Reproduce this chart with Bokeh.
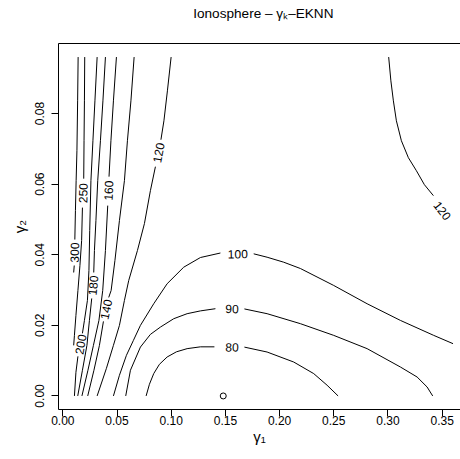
from bokeh.plotting import figure
from bokeh.models import Range1d, FixedTicker, LinearAxis, PrintfTickFormatter
from bokeh.embed import file_html
from bokeh.resources import INLINE
from bokeh.core.properties import value

FONT = "Liberation Sans"

# ---- axis ticks ----
x_ticks = [0.00, 0.05, 0.10, 0.15, 0.20, 0.25, 0.30, 0.35]
y_ticks = [0.00, 0.02, 0.04, 0.06, 0.08]

# ---- contour lines (gamma1, gamma2); broken at their labels ----
c300_a_x = [0.01411, 0.01365, 0.01301, 0.01227, 0.01162, 0.01107]
c300_a_y = [0.09600, 0.08360, 0.06947, 0.06099, 0.05250, 0.04430]
c300_b_x = [0.01052, 0.01000]
c300_b_y = [0.03695, 0.03497]

c250_a_x = [0.02020, 0.01993, 0.01956, 0.01928]
c250_a_y = [0.09600, 0.08360, 0.07230, 0.06155]
c250_b_x = [0.01808, 0.01734, 0.01577, 0.01393, 0.01208, 0.01070, 0.01000]
c250_b_y = [0.05335, 0.04402, 0.03695, 0.02988, 0.02282, 0.01716, 0.01433]

c200_a_x = [0.03164, 0.02961, 0.02777, 0.02592, 0.02481, 0.02408, 0.02269, 0.01993, 0.01808]
c200_a_y = [0.09600, 0.08360, 0.07230, 0.06099, 0.04685, 0.03554, 0.02706, 0.02140, 0.01773]
c200_b_x = [0.01393, 0.01208, 0.01070]
c200_b_y = [0.01122, 0.00670, 0.00000]

c180_a_x = [0.03930, 0.03699, 0.03469, 0.03220, 0.03053, 0.02915, 0.02851]
c180_a_y = [0.09600, 0.08360, 0.07230, 0.06099, 0.04968, 0.04119, 0.03497]
c180_b_x = [0.02666, 0.02454, 0.02223, 0.01808, 0.01375]
c180_b_y = [0.02762, 0.02140, 0.01433, 0.00727, 0.00000]

c160_a_x = [0.04945, 0.04668, 0.04437, 0.04262]
c160_a_y = [0.09600, 0.08360, 0.07230, 0.06212]
c160_b_x = [0.04142, 0.03930, 0.03681, 0.03330, 0.02823, 0.02315, 0.01762]
c160_b_y = [0.05392, 0.04119, 0.02988, 0.02140, 0.01433, 0.00727, 0.00000]

c140_a_x = [0.06577, 0.06282, 0.05959, 0.05683, 0.05221, 0.04806, 0.04456, 0.04234]
c140_a_y = [0.09600, 0.08360, 0.07230, 0.06099, 0.04968, 0.03837, 0.02988, 0.02791]
c140_b_x = [0.03745, 0.03376, 0.02869, 0.02297]
c140_b_y = [0.02112, 0.01433, 0.00727, 0.00000]

c120_a_x = [0.09991, 0.09649, 0.09327, 0.09050]
c120_a_y = [0.09600, 0.08643, 0.07795, 0.07258]
c120_b_x = [0.08542, 0.08081, 0.07528, 0.06882, 0.06079, 0.05683, 0.05221, 0.04668, 0.04022, 0.03164]
c120_b_y = [0.06494, 0.05816, 0.04883, 0.04119, 0.03271, 0.02706, 0.01999, 0.01433, 0.00783, 0.00000]

c120r_x = [0.30064, 0.30267, 0.30498, 0.30775, 0.31236, 0.31882, 0.32620, 0.33358, 0.34188]
c120r_y = [0.09600, 0.08926, 0.08360, 0.07795, 0.07230, 0.06749, 0.06381, 0.05985, 0.05674]

c100_a_x = [0.04668, 0.05221, 0.05867, 0.06513, 0.07159, 0.08386, 0.09622, 0.11153, 0.12694, 0.14539]
c100_a_y = [0.00000, 0.00585, 0.01151, 0.01575, 0.01999, 0.02612, 0.03178, 0.03647, 0.03921, 0.04049]
c100_b_x = [0.17611, 0.18847, 0.20378, 0.21919, 0.24991, 0.28072, 0.31144, 0.34216, 0.36000]
c100_b_y = [0.04026, 0.03930, 0.03789, 0.03610, 0.03130, 0.02612, 0.02140, 0.01716, 0.01481]

c90_a_x = [0.05803, 0.06236, 0.07159, 0.08081, 0.09004, 0.10231, 0.11467, 0.12694, 0.14078]
c90_a_y = [0.00000, 0.00727, 0.01385, 0.01744, 0.01951, 0.02188, 0.02330, 0.02409, 0.02471]
c90_b_x = [0.16753, 0.18847, 0.21919, 0.24991, 0.28072, 0.31144, 0.32684, 0.33607, 0.34124]
c90_b_y = [0.02465, 0.02330, 0.02047, 0.01716, 0.01340, 0.00820, 0.00537, 0.00254, 0.00000]

c80_a_x = [0.07684, 0.07989, 0.08386, 0.08911, 0.09622, 0.10480, 0.11467, 0.12694, 0.13985]
c80_a_y = [0.00000, 0.00331, 0.00633, 0.00896, 0.01103, 0.01250, 0.01340, 0.01391, 0.01391]
c80_b_x = [0.16753, 0.18847, 0.21301, 0.23146, 0.24382, 0.25397]
c80_b_y = [0.01383, 0.01244, 0.00961, 0.00633, 0.00303, 0.00000]

# ---- contour labels ----
label_text = ["300", "250", "200", "180", "160", "140", "120", "120", "100", "90", "80"]
label_x = [0.01070, 0.01854, 0.01624, 0.02777, 0.04207, 0.03976, 0.08819, 0.35018, 0.16135, 0.15618, 0.15618]
label_y = [0.04063, 0.05745, 0.01462, 0.03130, 0.05816, 0.02451, 0.06890, 0.05250, 0.04026, 0.02471, 0.01385]
label_angle = [88.5, 88.5, 80, 85, 87, 78, 79, -52, 1, -1, -1]

# ---- minimum marker ----
min_x = [0.148]
min_y = [0.0]

title_text = "Ionosphere – γₖ–EKNN"
title_center = 0.185   # middle of the plotted box (gamma1 units)
x_label = "γ₁"
y_label = "γ₂"

xs = [c300_a_x, c300_b_x, c250_a_x, c250_b_x, c200_a_x, c200_b_x, c180_a_x, c180_b_x,
      c160_a_x, c160_b_x, c140_a_x, c140_b_x, c120_a_x, c120_b_x, c120r_x,
      c100_a_x, c100_b_x, c90_a_x, c90_b_x, c80_a_x, c80_b_x]
ys = [c300_a_y, c300_b_y, c250_a_y, c250_b_y, c200_a_y, c200_b_y, c180_a_y, c180_b_y,
      c160_a_y, c160_b_y, c140_a_y, c140_b_y, c120_a_y, c120_b_y, c120r_y,
      c100_a_y, c100_b_y, c90_a_y, c90_b_y, c80_a_y, c80_b_y]

p = figure(width=460, height=459, output_backend="svg", toolbar_location=None,
           x_range=Range1d(-0.004, 0.3669), y_range=Range1d(-0.00384, 0.09984),
           min_border_left=58, min_border_right=0, min_border_top=43, min_border_bottom=50)
p.title.text = ""
p.outline_line_color = None
p.xgrid.grid_line_color = None
p.ygrid.grid_line_color = None
p.background_fill_color = "white"
p.border_fill_color = "white"

for ax in (p.xaxis[0], p.yaxis[0]):
    ax.major_tick_in = 0
    ax.major_tick_out = 7
    ax.minor_tick_line_color = None
    ax.major_label_text_font = FONT
    ax.major_label_text_font_size = "12px"
    ax.major_label_text_color = "black"
    ax.axis_line_color = "black"
    ax.major_tick_line_color = "black"
    ax.formatter = PrintfTickFormatter(format="%.2f")
    ax.axis_label_text_font = FONT
    ax.axis_label_text_font_size = "15px"
    ax.axis_label_text_font_style = "normal"
    ax.axis_label_text_color = "black"

p.xaxis[0].ticker = FixedTicker(ticks=x_ticks)
p.yaxis[0].ticker = FixedTicker(ticks=y_ticks)
p.xaxis[0].major_label_standoff = -1
p.yaxis[0].major_label_standoff = 7
p.yaxis[0].major_label_orientation = "vertical"
p.xaxis[0].axis_label = x_label
p.yaxis[0].axis_label = y_label
p.xaxis[0].axis_label_standoff = 0
p.yaxis[0].axis_label_standoff = 5

# top edge of the box, carrying the main title centred over the whole box
top = LinearAxis(ticker=FixedTicker(ticks=[title_center]),
                 major_label_overrides={title_center: title_text},
                 major_tick_line_color=None, major_tick_in=0, major_tick_out=0,
                 major_label_standoff=23, minor_tick_line_color=None,
                 major_label_text_font=FONT, major_label_text_font_size="13.6px",
                 major_label_text_color="black", axis_line_color="black")
p.add_layout(top, "above")

p.multi_line(xs=xs, ys=ys, line_color="black", line_width=1)
p.text(x=label_x, y=label_y, text=label_text, angle=label_angle, angle_units="deg",
       text_align="center", text_baseline="middle", text_font=value(FONT),
       text_font_size="12px", text_color="black")
p.scatter(x=min_x, y=min_y, marker="circle", size=6, fill_color=None,
          line_color="black", line_width=1)

open("out.html", "w").write(file_html(p, INLINE))
